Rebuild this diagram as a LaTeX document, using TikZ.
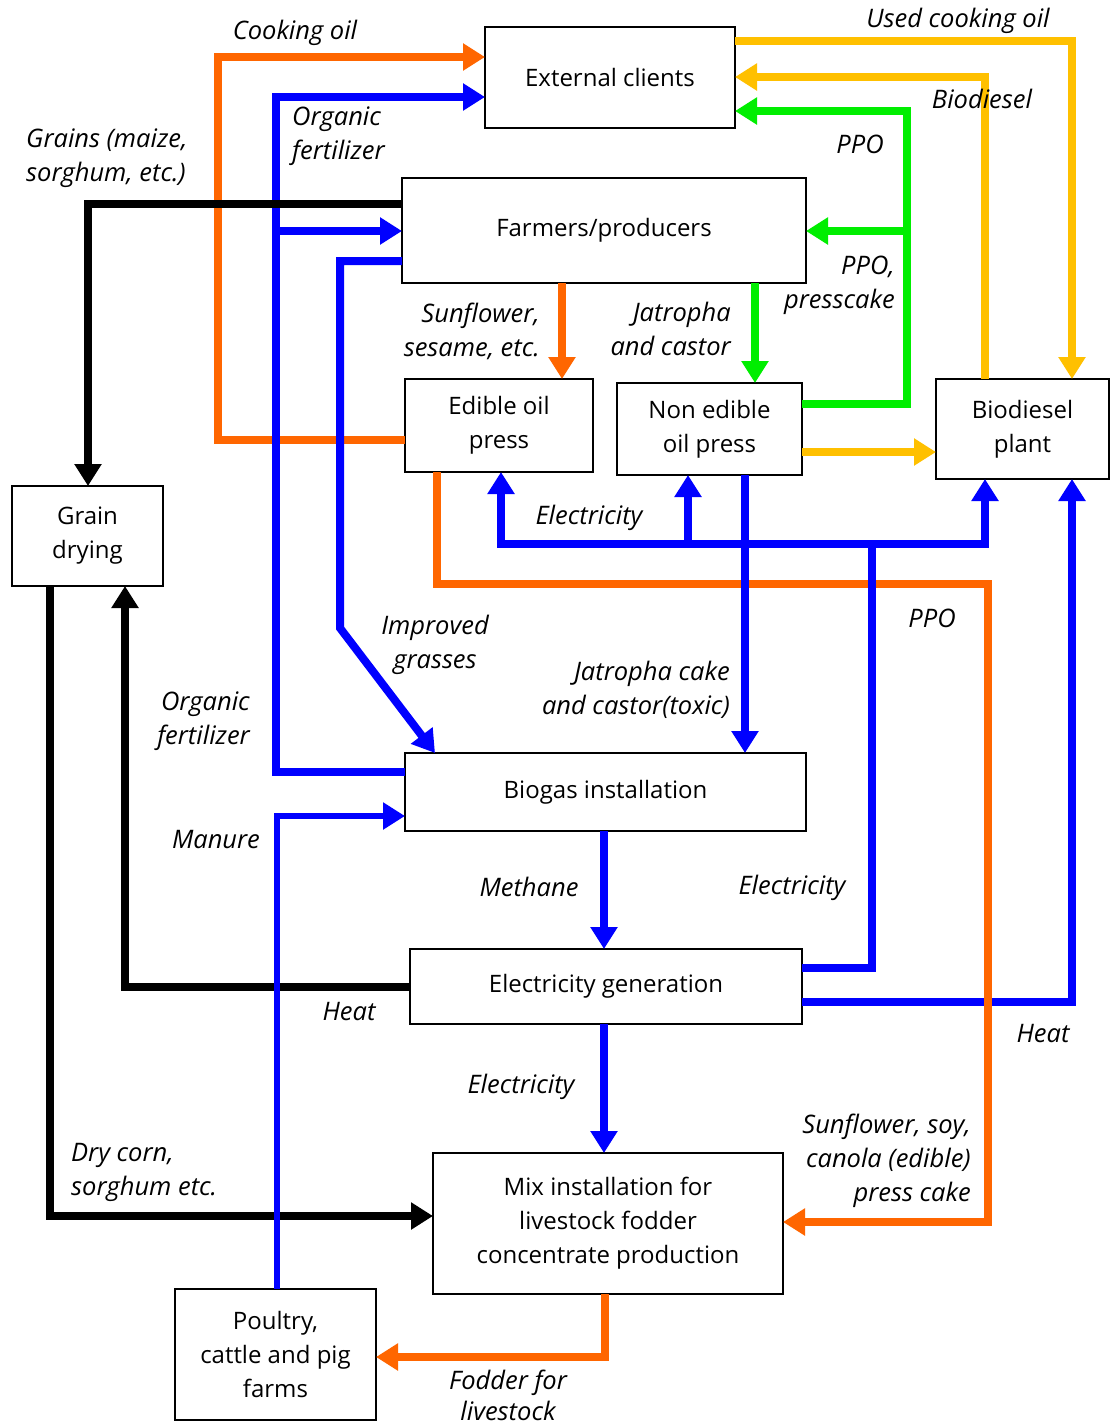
\documentclass[tikz,border=0pt]{standalone}
\usepackage{fontspec}
\setmainfont{Open Sans}
\usetikzlibrary{arrows.meta}
\definecolor{cOr}{RGB}{255,102,0}
\definecolor{cYe}{RGB}{255,192,0}
\definecolor{cGr}{RGB}{0,238,0}
\definecolor{cBl}{RGB}{0,0,255}
\begin{document}
\begin{tikzpicture}[x=1pt,y=-1pt,
 box/.style={draw, line width=2.5pt, inner sep=0pt, outer sep=0pt, align=center, font=\fontsize{24}{34}\selectfont},
 flow/.style={line width=8pt, line join=miter, -{Triangle[length=22pt,width=26pt]}},
 lbl/.style={font=\fontsize{25.5}{34}\selectfont\itshape, align=center, inner sep=0pt},
]
\useasboundingbox[fill=white] (0,0) rectangle (1111,1428);

% boxes
\node[box, minimum width=250pt, minimum height=101pt] (ext) at (610,77.5) {External clients};
\node[box, minimum width=404pt, minimum height=105pt] (farm) at (604,230.5) {Farmers/producers};
\node[box, minimum width=188pt, minimum height=93pt] (edible) at (499,425.5) {Edible oil\\press};
\node[box, minimum width=185pt, minimum height=92pt] (nonedible) at (709.5,429) {Non edible\\oil press};
\node[box, minimum width=173pt, minimum height=100pt] (biod) at (1022.5,429) {Biodiesel\\plant};
\node[box, minimum width=151pt, minimum height=100pt] (grain) at (87.5,536) {Grain\\drying};
\node[box, minimum width=401pt, minimum height=78pt] (biogas) at (605.5,792) {Biogas installation};
\node[box, minimum width=392pt, minimum height=75pt] (elec) at (606,986.5) {Electricity generation};
\node[box, minimum width=350pt, minimum height=141pt] (mix) at (608,1223.5) {Mix installation for\\livestock fodder\\concentrate production};
\node[box, minimum width=201pt, minimum height=131pt] (farms) at (275.5,1354.5) {Poultry,\\cattle and pig\\farms};

\coordinate (gj) at (907,231);
\coordinate (bj) at (276,231);
\coordinate (bus1) at (872,544);
\coordinate (bus2) at (688,544);

% blue heat line (under orange)
\draw[flow, cBl] (elec.east |- 0,1002) -| (biod.south -| 1072,0);

% orange
\draw[flow, cOr] (edible.west |- 0,440) -| (218,57) -- (ext.west |- 0,57);
\draw[flow, cOr] (farm.south -| 562,0) -- (edible.north -| 562,0);
\draw[flow, cOr] (edible.south -| 437,0) |- (988,584) |- (mix.east |- 0,1222);
\draw[flow, cOr] (mix.south -| 605,0) |- (farms.east |- 0,1357);

% yellow
\draw[flow, cYe] (ext.east |- 0,41) -| (biod.north -| 1072,0);
\draw[flow, cYe] (biod.north -| 985,0) |- (ext.east |- 0,77);
\draw[flow, cYe] (nonedible.east |- 0,452) -- (biod.west |- 0,452);

% green
\draw[flow, cGr] (nonedible.east |- 0,404) -| (907,111) -- (ext.east |- 0,111);
\draw[flow, cGr] (gj) -- (farm.east |- 0,231);
\draw[flow, cGr] (farm.south -| 755,0) -- (nonedible.north -| 755,0);

% black (lower)
\draw[flow] (elec.west |- 0,987) -| (grain.south -| 125,0);
\draw[flow] (grain.south -| 50,0) |- (mix.west |- 0,1216);

% blue
\draw[flow, cBl] (biogas.west |- 0,772) -| (276,97) -- (ext.west |- 0,97);
\draw[flow, cBl] (bj) -- (farm.west |- 0,231);
\draw[flow, cBl] (farm.west |- 0,261) -| (340,628) -- (biogas.north -| 435,0);
\draw[flow, cBl] (nonedible.south -| 745,0) -- (biogas.north -| 745,0);
\draw[flow, cBl] (elec.east |- 0,968) -| (bus1) -| (biod.south -| 985,0);
\draw[flow, cBl] (bus1) -| (edible.south -| 501,0);
\draw[flow, cBl] (bus2) -- (nonedible.south -| 688,0);
\draw[flow, cBl] (biogas.south -| 604,0) -- (elec.north -| 604,0);
\draw[flow, cBl] (elec.south -| 604,0) -- (mix.north -| 604,0);
\draw[flow, cBl, line width=6pt] (farms.north -| 277,0) |- (biogas.west |- 0,816);

% black (top)
\draw[flow] (farm.west |- 0,204) -| (grain.north -| 88,0);

% labels
\node[lbl] (l1) at (295,33) {Cooking oil};
\node[lbl, align=left, anchor=west] (l2) at (292,136) {Organic\\fertilizer};
\node[lbl, align=left, anchor=west] (l3) at (26,158) {Grains (maize,\\sorghum, etc.)};
\node[lbl] (l4) at (958,21) {Used cooking oil};
\node[lbl] (l5) at (982,99) {Biodiesel};
\node[lbl] (l6) at (860,144) {PPO};
\node[lbl, align=right, anchor=east] (l7) at (895,285) {PPO,\\presscake};
\node[lbl, align=right, anchor=east] (l8) at (540,331) {Sunflower,\\sesame, etc.};
\node[lbl, align=right, anchor=east] (l9) at (731,329) {Jatropha\\and castor};
\node[lbl] (l10) at (589,518) {Electricity};
\node[lbl] (l11) at (932,618) {PPO};
\node[lbl] (l12) at (435,645) {Improved\\grasses};
\node[lbl, align=right, anchor=east] (l13) at (730,690) {Jatropha cake\\and castor(toxic)};
\node[lbl, align=right, anchor=east] (l14) at (250,721) {Organic\\fertilizer};
\node[lbl] (l15) at (216,840) {Manure};
\node[lbl] (l16) at (529,887) {Methane};
\node[lbl] (l17) at (792,888) {Electricity};
\node[lbl] (l18) at (349,1012) {Heat};
\node[lbl] (l19) at (1043,1034) {Heat};
\node[lbl] (l20) at (521,1087) {Electricity};
\node[lbl, align=left, anchor=west] (l21) at (71,1172) {Dry corn,\\sorghum etc.};
\node[lbl, align=right, anchor=east] (l22) at (971,1161) {Sunflower, soy,\\canola (edible)\\press cake};
\node[lbl, font=\fontsize{25.5}{31}\selectfont\itshape] (l23) at (508,1395) {Fodder for\\livestock};
\end{tikzpicture}
\end{document}
